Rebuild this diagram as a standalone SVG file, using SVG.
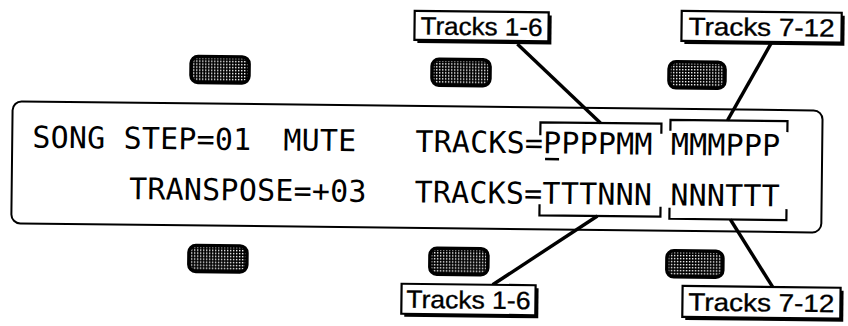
<svg xmlns="http://www.w3.org/2000/svg" width="848" height="326" viewBox="0 0 848 326">
<defs>
<pattern id="stip" patternUnits="userSpaceOnUse" width="3" height="3">
<rect width="3" height="3" fill="#000"/>
<rect x="0" y="0" width="1.4" height="1.4" fill="#fff"/>
</pattern>
<style>
.lcd{font-family:"DejaVu Sans Mono",monospace;font-size:30px;letter-spacing:0.2px;fill:#000}
.lbl{font-family:"Liberation Sans",Arial,sans-serif;font-size:25px;fill:#000;stroke:#000;stroke-width:0.35;text-anchor:middle}
.btn{fill:url(#stip);stroke:#000;stroke-width:3.5}
.frame{fill:#fff;stroke:#000;stroke-width:2}
.shadow{fill:#000}
.box{fill:#fff;stroke:#000;stroke-width:2.2}
.brk{fill:none;stroke:#000;stroke-width:2.2}
.lead{stroke:#000;stroke-width:3.4;fill:none}
</style>
</defs>
<rect width="848" height="326" fill="#fff"/>
<g transform="rotate(0.65 424 163)">
<g id="display">
<rect class="frame" x="12" y="106" width="810" height="122" rx="9"/>
<text class="lcd" x="32" y="152">SONG STEP=01</text>
<text class="lcd" x="283" y="152">MUTE</text>
<text class="lcd" x="415" y="152">TRACKS=PPPPMM MMMPPP</text>
<rect x="545" y="156.5" width="14" height="2.5" fill="#000"/>
<text class="lcd" x="129.5" y="202.5">TRANSPOSE=+03</text>
<text class="lcd" x="415" y="202.5">TRACKS=TTTNNN NNNTTT</text>
<path class="brk" d="M540,134 V121 H661 V131"/>
<path class="brk" d="M670,128 V117 H787 V128"/>
<path class="brk" d="M540,203 V214 H661 V204"/>
<path class="brk" d="M670,205 V216 H787 V205"/>
</g>
<g id="btn-top-1"><rect class="btn" x="190" y="59" width="58" height="26" rx="7"/></g>
<g id="btn-top-2"><rect class="btn" x="431" y="59" width="58" height="26" rx="7"/></g>
<g id="btn-top-3"><rect class="btn" x="668" y="59" width="56" height="26" rx="7"/></g>
<g id="btn-bot-1"><rect class="btn" x="190" y="248" width="58" height="26" rx="7"/></g>
<g id="btn-bot-2"><rect class="btn" x="431" y="248" width="58" height="26" rx="7"/></g>
<g id="btn-bot-3"><rect class="btn" x="668" y="248" width="56" height="26" rx="7"/></g>
<g id="connectors">
<line class="lead" x1="516" y1="43" x2="600" y2="121"/>
<line class="lead" x1="770" y1="39" x2="727" y2="117"/>
<line class="lead" x1="598" y1="214" x2="494" y2="284"/>
<line class="lead" x1="731" y1="216" x2="774" y2="283"/>
</g>
<g id="label-top-1">
<rect class="shadow" x="416" y="14" width="134" height="29"/>
<rect class="box" x="413" y="11" width="134" height="29"/>
<text class="lbl" x="480" y="34.5" textLength="122" lengthAdjust="spacingAndGlyphs">Tracks 1-6</text>
</g>
<g id="label-top-2">
<rect class="shadow" x="683" y="11" width="160" height="30"/>
<rect class="box" x="680" y="8" width="160" height="30"/>
<text class="lbl" x="760" y="32" textLength="146" lengthAdjust="spacingAndGlyphs">Tracks 7-12</text>
</g>
<g id="label-bot-1">
<rect class="shadow" x="406" y="287" width="134" height="30"/>
<rect class="box" x="403" y="284" width="134" height="30"/>
<text class="lbl" x="470" y="308" textLength="124" lengthAdjust="spacingAndGlyphs">Tracks 1-6</text>
</g>
<g id="label-bot-2">
<rect class="shadow" x="687" y="286" width="158" height="31"/>
<rect class="box" x="684" y="283" width="158" height="31"/>
<text class="lbl" x="763" y="307.5" textLength="146" lengthAdjust="spacingAndGlyphs">Tracks 7-12</text>
</g>
</g>
</svg>
